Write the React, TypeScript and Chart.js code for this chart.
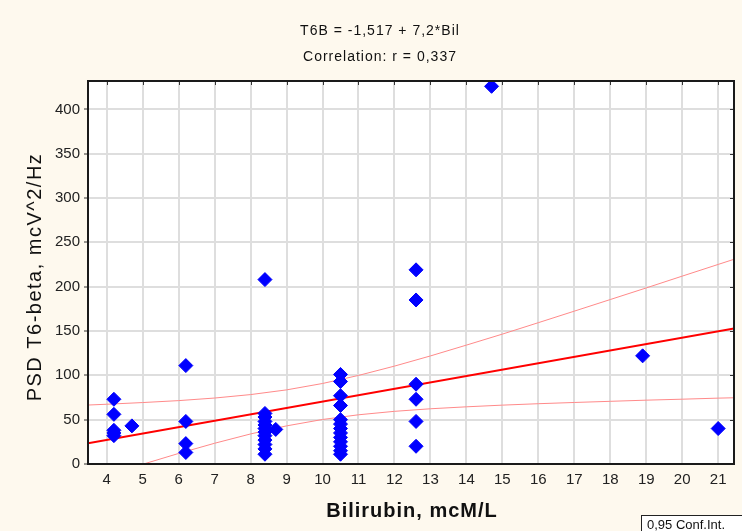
import React, { useEffect, useRef } from "react";
import { Chart, registerables } from "chart.js";

Chart.register(...registerables);

// Observed points (Bilirubin, PSD T6-beta)
const bilirubin = [
  4.2, 4.2, 4.2, 4.2, 4.2,
  4.7,
  6.2, 6.2, 6.2, 6.2,
  8.4, 8.4, 8.4, 8.4, 8.4, 8.4, 8.4, 8.4, 8.4, 8.4, 8.4, 8.4,
  8.7,
  10.5, 10.5, 10.5, 10.5, 10.5, 10.5, 10.5, 10.5, 10.5, 10.5, 10.5, 10.5, 10.5,
  12.6, 12.6, 12.6, 12.6, 12.6, 12.6,
  14.7,
  18.9,
  21.0,
];
const psd = [
  73, 56, 38, 35, 32,
  43,
  111, 48, 23, 13,
  208, 57, 53, 48, 44, 40, 36, 32, 27, 22, 17, 11,
  39,
  101, 93, 77, 66, 50, 45, 40, 35, 30, 25, 20, 15, 11,
  219, 185, 90, 73, 48, 20,
  426,
  122,
  40,
];

// Regression line and 0.95 confidence band
const fitX = [3.48, 21.44];
const fitY = [23.5, 152.8];
const bandX = [3.48, 4, 5, 6, 7, 8, 9, 10, 11, 12, 13, 14, 15, 16, 17, 18, 19, 20, 21, 21.44];
const bandUpper = [66.5, 67.4, 69.3, 71.5, 74.4, 78.3, 83.6, 90.8, 99.9, 110.4, 121.9, 134.1, 146.5, 159.4, 172.4, 185.5, 198.6, 211.9, 225.1, 230.9];
const bandLower = [-19.5, -12.8, -0.3, 11.9, 23.4, 33.9, 43.0, 50.2, 55.5, 59.4, 62.3, 64.5, 66.4, 68.0, 69.4, 70.7, 72.0, 73.1, 74.3, 74.7];

const titleLines = ["T6B = -1,517 + 7,2*Bil", "Correlation: r = 0,337"];
const xTitle = "Bilirubin, mcM/L";
const yTitle = "PSD T6-beta, mcV^2/Hz";
const legendText = "0,95 Conf.Int.";

const FONT = "'Liberation Sans', Arial, sans-serif";
const BG = "#fef9ee";

const zip = (xs: number[], ys: number[]) => xs.map((x, i) => ({ x, y: ys[i] }));

const decor = {
  id: "decor",
  beforeDraw(chart: any) {
    const { ctx, chartArea: a, width, height } = chart;
    ctx.save();
    ctx.fillStyle = BG;
    ctx.fillRect(0, 0, width, height);
    ctx.fillStyle = "#ffffff";
    ctx.fillRect(a.left, a.top, a.right - a.left, a.bottom - a.top);
    ctx.restore();
  },
  afterDraw(chart: any) {
    const { ctx, chartArea: a } = chart;
    const xs = chart.scales.x;
    const ys = chart.scales.y;
    ctx.save();
    // inner ticks on top and right frame
    ctx.strokeStyle = "#333";
    ctx.lineWidth = 1;
    ctx.beginPath();
    xs.ticks.forEach((t: any) => {
      const px = Math.round(xs.getPixelForValue(t.value)) + 0.5;
      ctx.moveTo(px, a.top);
      ctx.lineTo(px, a.top + 4);
    });
    ys.ticks.forEach((t: any) => {
      const py = Math.round(ys.getPixelForValue(t.value)) + 0.5;
      ctx.moveTo(a.right, py);
      ctx.lineTo(a.right - 4, py);
    });
    ctx.stroke();
    // frame
    ctx.strokeStyle = "#1a1a1a";
    ctx.lineWidth = 2;
    ctx.strokeRect(a.left, a.top, a.right - a.left, a.bottom - a.top);

    // titles
    ctx.fillStyle = "#111";
    ctx.textAlign = "center";
    ctx.textBaseline = "middle";
    (ctx as any).letterSpacing = "1px";
    ctx.font = `14px ${FONT}`;
    ctx.fillText(titleLines[0], 380, 31);
    ctx.fillText(titleLines[1], 380, 57);

    // x title
    ctx.font = `bold 20px ${FONT}`;
    ctx.fillText(xTitle, 412, 511);

    // y title
    (ctx as any).letterSpacing = "1.5px";
    ctx.font = `20px ${FONT}`;
    ctx.save();
    ctx.translate(35, 277);
    ctx.rotate(-Math.PI / 2);
    ctx.fillText(yTitle, 0, 0);
    ctx.restore();

    // legend box (cut by the canvas edge)
    (ctx as any).letterSpacing = "0px";
    ctx.fillStyle = "#ffffff";
    ctx.fillRect(642, 515, 120, 30);
    ctx.strokeStyle = "#222";
    ctx.lineWidth = 1;
    ctx.strokeRect(641.5, 515.5, 120, 30);
    ctx.fillStyle = "#111";
    ctx.textAlign = "left";
    ctx.font = `13px ${FONT}`;
    ctx.fillText(legendText, 647, 525);
    ctx.restore();
  },
};

export default function App() {
  const ref = useRef<HTMLCanvasElement>(null);
  useEffect(() => {
    if (!ref.current) return;
    const chart = new Chart(ref.current, {
      type: "scatter",
      data: {
        datasets: [
          {
            label: "data",
            data: zip(bilirubin, psd),
            pointStyle: "rectRot",
            pointRadius: 7,
            backgroundColor: "#0000ff",
            borderColor: "#0000ff",
            borderWidth: 1,
            showLine: false,
          },
          {
            label: "fit",
            data: zip(fitX, fitY),
            showLine: true,
            borderColor: "#ff0000",
            borderWidth: 2,
            pointRadius: 0,
          },
          {
            label: "upper",
            data: zip(bandX, bandUpper),
            showLine: true,
            borderColor: "#ff8a8a",
            borderWidth: 1,
            pointRadius: 0,
          },
          {
            label: "lower",
            data: zip(bandX, bandLower),
            showLine: true,
            borderColor: "#ff8a8a",
            borderWidth: 1,
            pointRadius: 0,
          },
        ],
      },
      options: {
        animation: false,
        responsive: false,
        events: [],
        layout: { padding: { top: 81, right: 7, left: 0, bottom: 0 } },
        plugins: { legend: { display: false }, tooltip: { enabled: false }, title: { display: false } },
        scales: {
          x: {
            type: "linear",
            min: 3.48,
            max: 21.44,
            afterFit: (s: any) => { s.height = 67; },
            border: { display: false },
            grid: { color: "#dedede", lineWidth: 2, drawTicks: false },
            ticks: {
              stepSize: 1,
              includeBounds: false,
              padding: 7,
              color: "#222",
              font: { family: FONT, size: 15 },
            },
          },
          y: {
            type: "linear",
            min: 0,
            max: 432,
            afterFit: (s: any) => { s.width = 88; },
            border: { display: false },
            grid: { color: "#dedede", lineWidth: 2, tickLength: 4, tickColor: "#333", tickWidth: 1 },
            ticks: {
              stepSize: 50,
              includeBounds: false,
              padding: 4,
              color: "#222",
              font: { family: FONT, size: 15 },
            },
          },
        },
      },
      plugins: [decor],
    });
    return () => chart.destroy();
  }, []);
  return (
    <div style={{ position: "fixed", left: 0, top: 0, width: 742, height: 531, background: BG }}>
      <canvas ref={ref} width={742} height={531} style={{ display: "block" }} />
    </div>
  );
}
